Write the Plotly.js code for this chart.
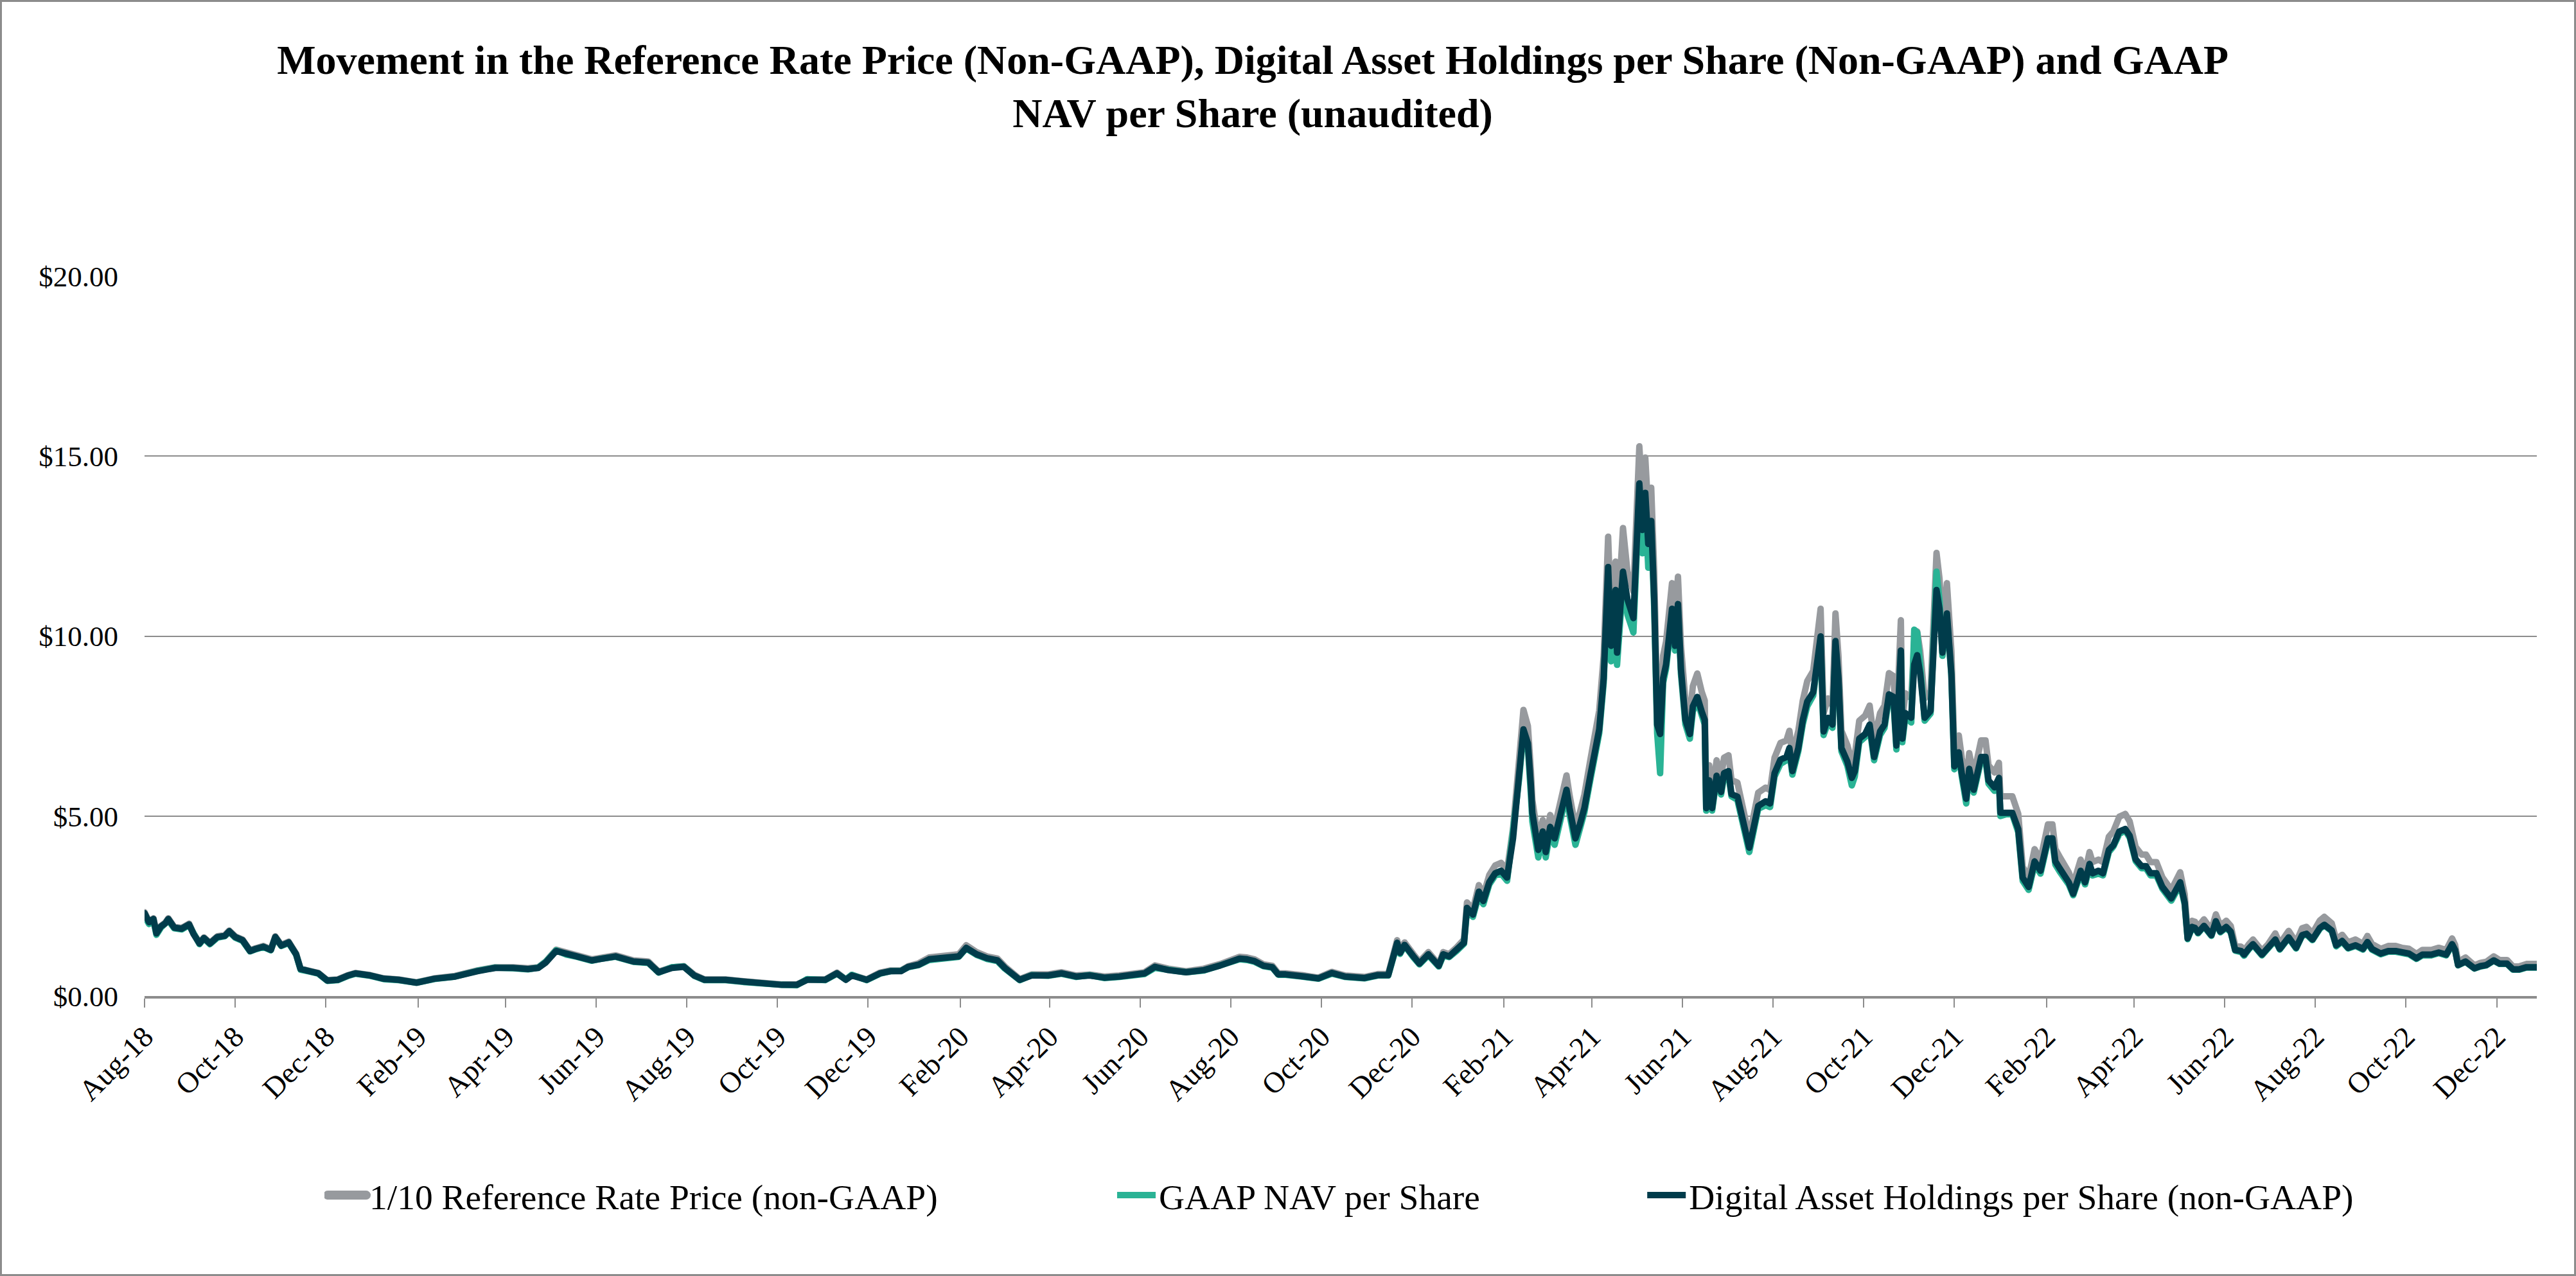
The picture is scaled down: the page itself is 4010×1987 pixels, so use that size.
<!DOCTYPE html>
<html>
<head>
<meta charset="utf-8">
<script src="https://cdn.plot.ly/plotly-3.0.1.min.js"></script>
<style>
  html, body { margin: 0; padding: 0; background: #ffffff; }
  #wrap { position: relative; width: 4010px; height: 1987px; }
  #chart { position: absolute; left: 0; top: 0; width: 4010px; height: 1987px; }
  #frame { position: absolute; left: 0; top: 0; width: 4010px; height: 1987px; box-sizing: border-box;
           border: 3px solid #8c8c8c; pointer-events: none; }
  .scatterlayer path.js-line { stroke-linejoin: round; stroke-linecap: round; }
  .legend .legendlines path.js-line { stroke-width: 14px !important; stroke-linecap: round; }
</style>
</head>
<body>
<div id="wrap"><div id="chart"></div><div id="frame"></div></div>
<script>
// ---- Data ----
const dates = [
  // 2018
  '2018-08-01','2018-08-04','2018-08-07','2018-08-09','2018-08-12','2018-08-15','2018-08-17','2018-08-21','2018-08-26','2018-08-31',
  '2018-09-03','2018-09-07','2018-09-10','2018-09-14','2018-09-19','2018-09-24','2018-09-27','2018-10-01','2018-10-06','2018-10-11',
  '2018-10-15','2018-10-20','2018-10-25','2018-10-28','2018-11-01','2018-11-06','2018-11-11','2018-11-14','2018-11-20','2018-11-26',
  '2018-12-02','2018-12-09','2018-12-16','2018-12-21','2018-12-31',
  // 2019
  '2019-01-09','2019-01-19','2019-01-31','2019-02-12','2019-02-26','2019-03-13','2019-03-25','2019-04-06','2019-04-16','2019-04-23',
  '2019-04-28','2019-05-05','2019-05-12','2019-05-19','2019-05-29','2019-06-05','2019-06-14','2019-06-26','2019-07-06','2019-07-13',
  '2019-07-22','2019-07-30','2019-08-06','2019-08-13','2019-08-27','2019-09-08','2019-09-20','2019-10-04','2019-10-14','2019-10-21',
  '2019-11-02','2019-11-10','2019-11-16','2019-11-20','2019-11-30','2019-12-09','2019-12-16','2019-12-23','2019-12-28',
  // 2020
  '2020-01-04','2020-01-11','2020-01-21','2020-01-31','2020-02-05','2020-02-12','2020-02-19','2020-02-26','2020-03-02','2020-03-12',
  '2020-03-20','2020-03-31','2020-04-09','2020-04-19','2020-04-28','2020-05-08','2020-05-18','2020-05-27','2020-06-04','2020-06-11',
  '2020-06-20','2020-07-02','2020-07-14','2020-07-25','2020-08-01','2020-08-07','2020-08-12','2020-08-17','2020-08-23','2020-08-29',
  '2020-09-02','2020-09-07','2020-09-18','2020-09-29','2020-10-08','2020-10-17','2020-10-30','2020-11-08','2020-11-15','2020-11-19',
  '2020-11-21','2020-11-23','2020-11-26','2020-12-02','2020-12-06','2020-12-12','2020-12-15','2020-12-19','2020-12-22','2020-12-26',
  '2020-12-31',
  // 2021
  '2021-01-05','2021-01-07','2021-01-11','2021-01-15','2021-01-18','2021-01-22','2021-01-26','2021-01-30','2021-02-03','2021-02-07',
  '2021-02-09','2021-02-11','2021-02-14','2021-02-17','2021-02-19','2021-02-20','2021-02-24','2021-02-27','2021-03-01','2021-03-04',
  '2021-03-07','2021-03-11','2021-03-15','2021-03-17','2021-03-21','2021-03-24','2021-03-27','2021-03-31','2021-04-03','2021-04-06',
  '2021-04-09','2021-04-12','2021-04-14','2021-04-17','2021-04-18','2021-04-22','2021-04-25','2021-04-27','2021-04-29','2021-05-03',
  '2021-05-05','2021-05-07','2021-05-09','2021-05-11','2021-05-13','2021-05-15','2021-05-17','2021-05-19','2021-05-21','2021-05-25',
  '2021-05-27','2021-05-29','2021-05-31','2021-06-03','2021-06-06','2021-06-08','2021-06-11','2021-06-14','2021-06-16','2021-06-17',
  '2021-06-19','2021-06-21','2021-06-24','2021-06-27','2021-06-29','2021-07-02','2021-07-04','2021-07-08','2021-07-11','2021-07-13',
  '2021-07-16','2021-07-19','2021-07-22','2021-07-27','2021-07-30','2021-08-02','2021-08-06','2021-08-10','2021-08-12','2021-08-14',
  '2021-08-18','2021-08-21','2021-08-24','2021-08-28','2021-08-30','2021-09-02','2021-09-04','2021-09-07','2021-09-10','2021-09-12',
  '2021-09-14','2021-09-16','2021-09-20','2021-09-23','2021-09-25','2021-09-28','2021-10-02','2021-10-05','2021-10-08','2021-10-12',
  '2021-10-15','2021-10-18','2021-10-21','2021-10-23','2021-10-26','2021-10-27','2021-10-29','2021-11-02','2021-11-04','2021-11-06',
  '2021-11-08','2021-11-11','2021-11-15','2021-11-17','2021-11-19','2021-11-21','2021-11-23','2021-11-26','2021-11-29','2021-12-01',
  '2021-12-04','2021-12-06','2021-12-09','2021-12-11','2021-12-14','2021-12-19','2021-12-22','2021-12-24','2021-12-28','2021-12-31',
  // 2022
  '2022-01-01','2022-01-05','2022-01-09','2022-01-13','2022-01-16','2022-01-20','2022-01-24','2022-01-28','2022-02-02','2022-02-05',
  '2022-02-07','2022-02-10','2022-02-16','2022-02-19','2022-02-24','2022-02-27','2022-03-02','2022-03-04','2022-03-08','2022-03-11',
  '2022-03-15','2022-03-18','2022-03-22','2022-03-26','2022-03-29','2022-04-02','2022-04-06','2022-04-09','2022-04-12','2022-04-16',
  '2022-04-20','2022-04-26','2022-04-29','2022-05-02','2022-05-05','2022-05-07','2022-05-10','2022-05-12','2022-05-14','2022-05-18',
  '2022-05-23','2022-05-26','2022-05-29','2022-06-02','2022-06-05','2022-06-08','2022-06-12','2022-06-14','2022-06-17','2022-06-20',
  '2022-06-26','2022-06-30','2022-07-05','2022-07-08','2022-07-14','2022-07-19','2022-07-23','2022-07-26','2022-07-30','2022-08-04',
  '2022-08-07','2022-08-12','2022-08-15','2022-08-19','2022-08-23','2022-08-28','2022-09-02','2022-09-05','2022-09-08','2022-09-14',
  '2022-09-19','2022-09-24','2022-09-28','2022-10-03','2022-10-08','2022-10-12','2022-10-18','2022-10-23','2022-10-28','2022-11-01',
  '2022-11-03','2022-11-05','2022-11-10','2022-11-16','2022-11-20','2022-11-24','2022-11-29','2022-12-03','2022-12-08','2022-12-12',
  '2022-12-16','2022-12-21','2022-12-28'
];

// 1/10 Reference Rate Price (non-GAAP)
const referenceRate = [
  // 2018
  2.33,2.07,2.16,1.76,1.95,2.04,2.16,1.92,1.89,2.01,
  1.74,1.48,1.63,1.48,1.66,1.69,1.82,1.66,1.57,1.27,
  1.33,1.39,1.30,1.66,1.42,1.51,1.18,0.76,0.70,0.64,
  0.44,0.46,0.58,0.64,0.58,
  // 2019
  0.49,0.46,0.38,0.49,0.56,0.71,0.80,0.80,0.77,0.80,
  0.96,1.29,1.19,1.13,1.02,1.08,1.13,0.99,0.96,0.68,
  0.80,0.83,0.59,0.46,0.46,0.41,0.35,0.32,0.32,0.46,
  0.46,0.65,0.46,0.59,0.46,0.65,0.71,0.71,0.83,
  // 2020
  0.91,1.07,1.13,1.16,1.41,1.22,1.10,1.04,0.82,0.47,
  0.60,0.60,0.66,0.57,0.60,0.54,0.57,0.60,0.66,0.85,
  0.76,0.69,0.76,0.89,1.00,1.09,1.07,1.02,0.88,0.84,
  0.63,0.63,0.58,0.51,0.67,0.57,0.53,0.61,0.61,1.28,
  1.55,1.26,1.49,1.16,0.95,1.22,1.08,0.88,1.22,1.16,
  1.35,
  // 2021
  1.57,2.60,2.40,3.08,2.80,3.36,3.63,3.70,3.50,4.66,
  5.42,6.52,7.95,7.50,6.26,5.44,4.34,4.89,4.28,5.03,
  4.69,5.45,6.13,5.59,4.69,5.10,5.59,6.55,7.24,7.93,
  9.45,12.76,10.41,12.07,10.21,13.00,11.79,11.51,11.24,15.27,
  13.86,14.96,13.44,14.12,11.79,8.07,7.79,9.45,9.85,11.47,
  10.41,11.65,9.73,8.21,7.79,8.61,8.96,8.45,8.21,5.59,
  6.41,5.59,6.55,6.07,6.62,6.69,6.00,5.93,5.31,4.96,
  4.41,5.03,5.65,5.79,5.72,6.62,7.03,7.10,7.37,6.69,
  7.37,8.21,8.75,9.03,9.73,10.76,7.86,8.27,8.07,10.63,
  9.45,7.37,6.97,6.48,6.69,7.65,7.79,8.07,7.10,7.86,
  8.07,8.97,8.89,7.45,10.44,7.65,8.41,8.27,9.85,10.13,
  9.59,8.27,8.47,10.55,12.31,11.60,10.21,11.47,9.59,6.83,
  7.24,6.62,5.86,6.75,6.13,7.10,7.10,6.41,6.21,6.48,
  // 2022
  5.55,5.55,5.55,5.06,3.59,3.30,4.08,3.79,4.77,4.77,
  4.08,3.86,3.44,3.10,3.79,3.44,4.00,3.72,3.79,3.72,
  4.43,4.57,4.98,5.06,4.85,4.14,3.93,3.93,3.72,3.72,
  3.30,2.95,3.16,3.44,2.83,1.75,2.09,2.06,1.92,2.13,
  1.84,2.27,1.95,2.09,1.95,1.40,1.37,1.26,1.43,1.57,
  1.26,1.43,1.74,1.45,1.81,1.49,1.88,1.92,1.74,2.10,
  2.20,2.02,1.57,1.70,1.49,1.57,1.45,1.67,1.45,1.31,
  1.39,1.39,1.34,1.31,1.17,1.28,1.28,1.34,1.28,1.60,
  1.42,0.95,1.07,0.85,0.92,0.95,1.10,1.00,1.00,0.82,
  0.82,0.89,0.89
];

// GAAP NAV per Share
const gaapNav = [
  // 2018
  2.22,2.00,2.10,1.70,1.90,2.00,2.10,1.88,1.85,1.97,
  1.70,1.44,1.60,1.44,1.62,1.66,1.78,1.62,1.53,1.24,
  1.30,1.36,1.27,1.62,1.39,1.47,1.15,0.73,0.68,0.62,
  0.42,0.44,0.56,0.62,0.56,
  // 2019
  0.47,0.44,0.37,0.47,0.54,0.70,0.79,0.77,0.74,0.79,
  0.95,1.27,1.15,1.09,0.98,1.04,1.09,0.95,0.92,0.65,
  0.80,0.82,0.56,0.44,0.44,0.39,0.34,0.31,0.30,0.47,
  0.44,0.62,0.46,0.59,0.44,0.62,0.69,0.70,0.80,
  // 2020
  0.86,1.00,1.06,1.09,1.32,1.14,1.03,0.97,0.76,0.44,
  0.58,0.56,0.62,0.53,0.58,0.50,0.53,0.56,0.61,0.78,
  0.73,0.66,0.71,0.84,0.94,1.02,1.00,0.95,0.83,0.79,
  0.59,0.59,0.54,0.48,0.62,0.53,0.49,0.57,0.57,1.18,
  1.44,1.17,1.40,1.07,0.88,1.13,1.01,0.82,1.12,1.08,
  1.25,
  // 2021
  1.45,2.38,2.20,2.80,2.55,3.10,3.35,3.40,3.20,4.60,
  5.20,6.00,7.30,6.90,5.60,4.85,3.85,4.40,3.85,4.55,
  4.20,4.95,5.60,5.05,4.20,4.65,5.10,6.00,6.65,7.30,
  8.70,11.70,9.30,11.10,9.20,11.50,10.60,10.35,10.10,14.00,
  12.30,13.70,11.90,13.00,10.80,7.30,6.19,8.70,9.10,10.60,
  9.60,10.75,8.95,7.55,7.15,7.90,8.20,7.80,7.55,5.15,
  5.90,5.15,6.05,5.60,6.10,6.15,5.55,5.45,4.90,4.55,
  4.00,4.60,5.20,5.30,5.25,6.10,6.45,6.55,6.80,6.15,
  6.80,7.55,8.05,8.35,9.00,9.90,7.25,7.60,7.45,9.75,
  8.75,6.80,6.40,5.85,6.10,7.05,7.20,7.45,6.55,7.25,
  7.45,8.30,8.20,6.85,9.55,7.05,7.75,7.60,10.18,10.10,
  9.20,7.65,7.85,9.95,11.79,11.00,9.45,10.55,8.90,6.30,
  6.70,6.10,5.35,6.25,5.65,6.55,6.55,5.90,5.70,5.95,
  // 2022
  5.00,5.05,5.05,4.55,3.20,2.95,3.65,3.40,4.30,4.30,
  3.65,3.45,3.10,2.80,3.40,3.10,3.60,3.35,3.40,3.35,
  4.00,4.15,4.50,4.60,4.40,3.75,3.55,3.55,3.35,3.35,
  2.98,2.65,2.85,3.10,2.55,1.58,1.90,1.87,1.74,1.93,
  1.67,2.06,1.77,1.90,1.77,1.26,1.22,1.12,1.29,1.42,
  1.13,1.29,1.55,1.29,1.61,1.32,1.67,1.71,1.55,1.87,
  1.96,1.80,1.38,1.51,1.32,1.39,1.29,1.48,1.29,1.16,
  1.23,1.23,1.19,1.16,1.03,1.13,1.13,1.19,1.13,1.42,
  1.26,0.85,0.95,0.76,0.82,0.85,0.98,0.89,0.89,0.73,
  0.73,0.79,0.79
];

// Digital Asset Holdings per Share (non-GAAP)
const holdingsPerShare = [
  // 2018
  2.30,2.05,2.14,1.74,1.93,2.02,2.14,1.90,1.87,1.99,
  1.72,1.46,1.61,1.46,1.64,1.67,1.80,1.64,1.55,1.25,
  1.31,1.37,1.28,1.64,1.40,1.49,1.16,0.75,0.69,0.63,
  0.43,0.45,0.57,0.63,0.57,
  // 2019
  0.48,0.45,0.37,0.48,0.54,0.69,0.78,0.78,0.75,0.78,
  0.93,1.25,1.16,1.10,0.99,1.05,1.10,0.96,0.93,0.66,
  0.78,0.81,0.57,0.45,0.45,0.40,0.34,0.31,0.31,0.45,
  0.45,0.63,0.45,0.57,0.45,0.63,0.69,0.69,0.81,
  // 2020
  0.87,1.02,1.08,1.10,1.34,1.16,1.05,0.99,0.78,0.45,
  0.57,0.57,0.63,0.54,0.57,0.51,0.54,0.57,0.63,0.81,
  0.72,0.66,0.72,0.85,0.95,1.04,1.02,0.97,0.84,0.80,
  0.60,0.60,0.55,0.49,0.64,0.54,0.50,0.58,0.58,1.22,
  1.48,1.20,1.42,1.10,0.90,1.16,1.03,0.84,1.16,1.10,
  1.29,
  // 2021
  1.48,2.45,2.26,2.90,2.64,3.16,3.41,3.48,3.29,4.38,
  5.09,6.12,7.41,7.02,5.86,5.09,4.06,4.57,4.00,4.70,
  4.38,5.09,5.73,5.22,4.38,4.77,5.22,6.12,6.77,7.41,
  8.83,11.92,9.73,11.28,9.54,11.79,11.02,10.76,10.50,14.24,
  12.95,13.98,12.56,13.20,11.02,7.54,7.28,8.83,9.21,10.76,
  9.73,10.89,9.09,7.67,7.28,8.05,8.31,7.90,7.67,5.22,
  5.99,5.22,6.12,5.67,6.19,6.25,5.61,5.54,4.96,4.64,
  4.12,4.70,5.28,5.41,5.35,6.19,6.57,6.64,6.89,6.25,
  6.89,7.67,8.18,8.44,9.09,9.99,7.35,7.73,7.54,9.86,
  8.83,6.89,6.51,6.06,6.25,7.15,7.28,7.54,6.64,7.35,
  7.54,8.38,8.31,6.96,9.60,7.15,7.86,7.73,9.21,9.47,
  8.96,7.73,7.92,9.86,11.28,10.76,9.54,10.63,8.96,6.38,
  6.77,6.19,5.48,6.31,5.73,6.64,6.64,5.99,5.80,6.06,
  // 2022
  5.09,5.09,5.09,4.64,3.29,3.03,3.74,3.48,4.38,4.38,
  3.74,3.54,3.16,2.84,3.48,3.16,3.67,3.41,3.48,3.41,
  4.06,4.19,4.57,4.64,4.45,3.80,3.61,3.61,3.41,3.41,
  3.03,2.71,2.90,3.16,2.60,1.60,1.92,1.89,1.76,1.95,
  1.69,2.08,1.79,1.92,1.79,1.28,1.25,1.15,1.31,1.44,
  1.15,1.31,1.57,1.31,1.63,1.34,1.69,1.73,1.57,1.89,
  1.98,1.82,1.41,1.53,1.34,1.41,1.31,1.50,1.31,1.18,
  1.25,1.25,1.21,1.18,1.05,1.15,1.15,1.21,1.15,1.44,
  1.28,0.86,0.96,0.77,0.83,0.86,0.99,0.90,0.90,0.74,
  0.74,0.80,0.80
];

const seriesNames = [
  '1/10 Reference Rate Price (non-GAAP)',
  'GAAP NAV per Share',
  'Digital Asset Holdings per Share (non-GAAP)'
];
const seriesColors = ['#979a9e', '#2ab395', '#003c4b'];
const titleText = 'Movement in the Reference Rate Price (Non-GAAP), Digital Asset Holdings per Share (Non-GAAP) and GAAP<br>NAV per Share (unaudited)';

// ---- Chart ----
const FONT = '"Liberation Serif", "Times New Roman", Times, serif';
const seriesValues = [referenceRate, gaapNav, holdingsPerShare];
const legendIds = ['legend', 'legend2', 'legend3'];

const traces = seriesValues.map((vals, i) => ({
  type: 'scatter',
  mode: 'lines',
  x: dates,
  y: vals,
  name: seriesNames[i],
  line: { color: seriesColors[i], width: 10, shape: 'linear' },
  legend: legendIds[i],
  hoverinfo: 'skip'
}));

const legendBase = {
  orientation: 'h',
  yanchor: 'middle',
  xanchor: 'left',
  y: -0.277,
  font: { family: FONT, size: 55.5, color: '#000000' },
  bgcolor: 'rgba(0,0,0,0)',
  itemwidth: 60,
  tracegroupgap: 0
};

const layout = {
  width: 4010,
  height: 1987,
  paper_bgcolor: '#ffffff',
  plot_bgcolor: '#ffffff',
  font: { family: FONT, color: '#000000' },
  margin: { l: 225, r: 61, t: 430, b: 436, pad: 0 },
  title: {
    text: titleText,
    font: { family: FONT, size: 64, color: '#000000', weight: 'bold' },
    x: 0.4863,
    xref: 'container',
    xanchor: 'center',
    y: 0.942,
    yref: 'container',
    yanchor: 'top'
  },
  showlegend: true,
  legend: Object.assign({}, legendBase, { x: 0.0752 }),
  legend2: Object.assign({}, legendBase, { x: 0.4052 }),
  legend3: Object.assign({}, legendBase, { x: 0.6268 }),
  xaxis: {
    type: 'date',
    range: ['2018-08-01', '2022-12-28'],
    tick0: '2018-08-01',
    dtick: 'M2',
    tickformat: '%b-%y',
    tickangle: -45,
    ticks: 'outside',
    ticklen: 14,
    tickwidth: 2,
    tickcolor: '#8c8c8c',
    showline: true,
    linecolor: '#8c8c8c',
    linewidth: 4,
    showgrid: false,
    zeroline: false,
    tickfont: { family: FONT, size: 46, color: '#000000' }
  },
  yaxis: {
    range: [0, 20],
    dtick: 5,
    tick0: 0,
    tickprefix: '$',
    tickformat: '.2f',
    showgrid: true,
    gridcolor: '#8c8c8c',
    gridwidth: 2,
    zeroline: false,
    showline: false,
    ticks: '',
    ticklabelstandoff: 40,
    tickfont: { family: FONT, size: 45, color: '#000000' }
  }
};

Plotly.newPlot('chart', traces, layout, { staticPlot: true, displayModeBar: false });
</script>
</body>
</html>
